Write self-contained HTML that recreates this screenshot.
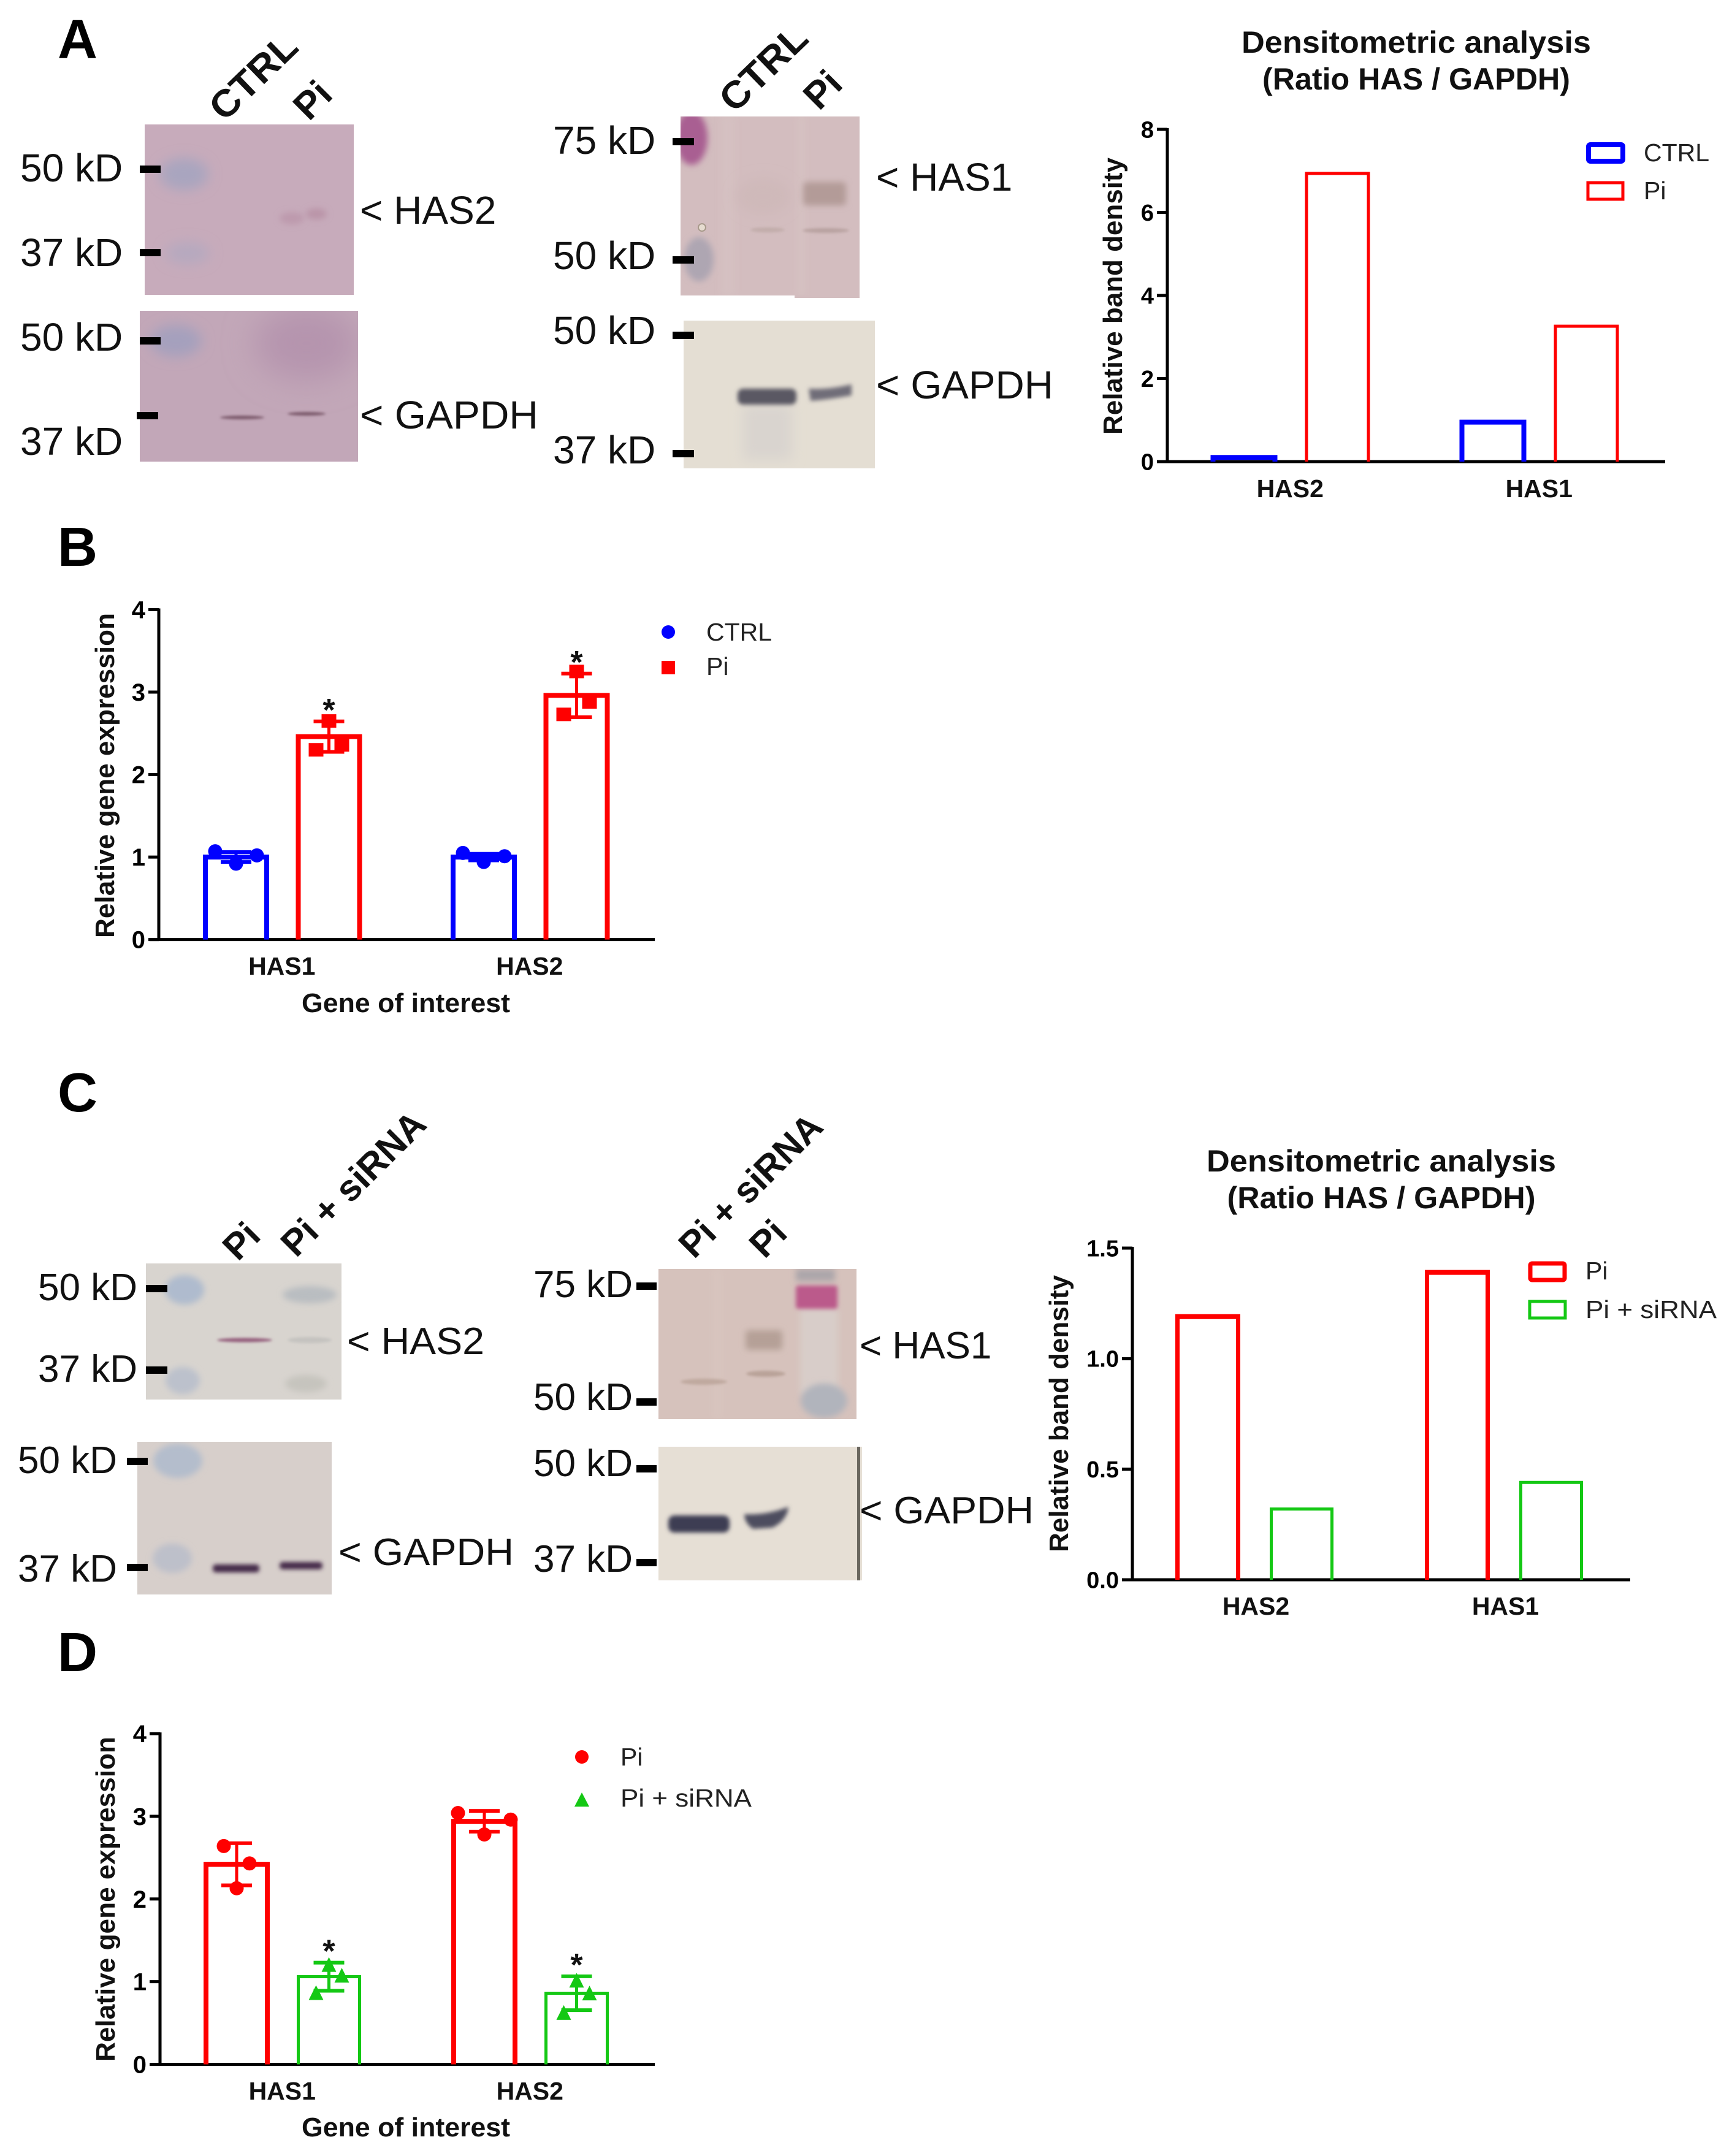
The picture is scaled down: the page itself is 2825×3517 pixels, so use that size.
<!DOCTYPE html>
<html lang="en">
<head>
<meta charset="utf-8">
<title>HAS1 and HAS2 western blots and gene expression</title>
<style>
html,body{margin:0;padding:0;background:#fff;}
svg{display:block;}
text{font-family:"Liberation Sans",sans-serif;fill:#111;}
.b{font-weight:bold;}
.k{font-size:64px;}
.k2{font-size:62px;}
.panel{font-size:90px;font-weight:bold;fill:#000;}
.rot{font-size:62px;font-weight:bold;}
.rot2{font-size:60px;font-weight:bold;}
.title{font-size:50px;font-weight:bold;text-anchor:middle;}
.ytitle{font-size:44px;font-weight:bold;text-anchor:middle;}
.leg{font-size:41px;fill:#222;}
.tick{fill:#000;}
</style>
</head>
<body>
<svg id="figure" xmlns="http://www.w3.org/2000/svg" width="2825" height="3517" viewBox="0 0 2825 3517">
<defs>
<filter id="b2" x="-60%" y="-200%" width="220%" height="500%"><feGaussianBlur stdDeviation="2"/></filter>
<filter id="b3" x="-60%" y="-100%" width="220%" height="300%"><feGaussianBlur stdDeviation="3.5"/></filter>
<filter id="b5" x="-60%" y="-100%" width="220%" height="300%"><feGaussianBlur stdDeviation="5"/></filter>
<filter id="b10" x="-60%" y="-80%" width="220%" height="260%"><feGaussianBlur stdDeviation="10"/></filter>
<filter id="b25" x="-80%" y="-80%" width="260%" height="260%"><feGaussianBlur stdDeviation="25"/></filter>
<clipPath id="c1"><rect x="236" y="203" width="341" height="278"/></clipPath>
<clipPath id="c2"><rect x="228" y="507" width="356" height="246"/></clipPath>
<clipPath id="c3"><rect x="1110" y="190" width="292" height="292"/></clipPath>
<clipPath id="c4"><rect x="1115" y="523" width="312" height="241"/></clipPath>
<clipPath id="c5"><rect x="238" y="2061" width="319" height="222"/></clipPath>
<clipPath id="c6"><rect x="224" y="2352" width="317" height="249"/></clipPath>
<clipPath id="c7"><rect x="1074" y="2070" width="323" height="245"/></clipPath>
<clipPath id="c8"><rect x="1074" y="2360" width="332" height="218"/></clipPath>
</defs>
<rect x="0" y="0" width="2825" height="3517" fill="#ffffff"/>

<text class="panel" x="94" y="95">A</text>
<text class="panel" x="94" y="923">B</text>
<text class="panel" x="94" y="1813">C</text>
<text class="panel" x="94" y="2726">D</text>

<!-- Panel A, left blots -->
<text class="rot" transform="translate(366 200) rotate(-44)" textLength="172" lengthAdjust="spacingAndGlyphs">CTRL</text>
<text class="rot" transform="translate(504 199) rotate(-45)">Pi</text>
<g clip-path="url(#c1)">
  <rect x="236" y="203" width="341" height="278" fill="#c7abbb"/>
  <ellipse cx="300" cy="284" rx="40" ry="26" fill="#a9a5bf" filter="url(#b10)"/>
  <ellipse cx="306" cy="413" rx="36" ry="18" fill="#b6a9bf" filter="url(#b10)"/>
  <ellipse cx="476" cy="356" rx="20" ry="10" fill="#bd9aad" filter="url(#b5)"/>
  <ellipse cx="516" cy="349" rx="17" ry="9" fill="#ba94a8" filter="url(#b5)"/>
</g>
<g clip-path="url(#c2)">
  <rect x="228" y="507" width="356" height="246" fill="#c2a7b8"/>
  <ellipse cx="500" cy="560" rx="85" ry="60" fill="#b594ae" filter="url(#b25)"/>
  <ellipse cx="287" cy="556" rx="42" ry="26" fill="#a5a0bd" filter="url(#b10)"/>
  <ellipse cx="395" cy="681" rx="36" ry="3" fill="#7c5a6c" filter="url(#b2)"/>
  <ellipse cx="500" cy="675" rx="31" ry="3" fill="#7c5a6c" filter="url(#b2)"/>
</g>
<g fill="#000">
  <rect x="228" y="270" width="34" height="12"/>
  <rect x="228" y="406" width="34" height="12"/>
  <rect x="228" y="550" width="34" height="12"/>
  <rect x="223" y="672" width="35" height="12"/>
</g>
<text class="k" x="33" y="296">50 kD</text>
<text class="k" x="33" y="434">37 kD</text>
<text class="k" x="33" y="572">50 kD</text>
<text class="k" x="33" y="742">37 kD</text>
<text class="k" x="587" y="365">&lt; HAS2</text>
<text class="k" x="587" y="699" textLength="291" lengthAdjust="spacingAndGlyphs">&lt; GAPDH</text>

<!-- Panel A, right blots -->
<text class="rot" transform="translate(1198 186) rotate(-44)" textLength="172" lengthAdjust="spacingAndGlyphs">CTRL</text>
<text class="rot" transform="translate(1336 182) rotate(-45)">Pi</text>
<rect x="1296" y="190" width="106" height="296" fill="#d3bdbf"/>
<g clip-path="url(#c3)">
  <rect x="1110" y="190" width="292" height="292" fill="#d3bdbf"/>
  <rect x="1176" y="190" width="24" height="292" fill="#d7c4c4" opacity="0.5" filter="url(#b5)"/>
  <rect x="1300" y="190" width="14" height="292" fill="#d8c6c4" opacity="0.5" filter="url(#b5)"/>
  <ellipse cx="1128" cy="225" rx="26" ry="44" fill="#a95f92" filter="url(#b5)"/>
  <ellipse cx="1140" cy="423" rx="24" ry="36" fill="#aea6b2" filter="url(#b5)"/>
  <circle cx="1145" cy="371" r="6" fill="#e6dcd0" stroke="#a89a8c" stroke-width="2"/>
  <ellipse cx="1245" cy="320" rx="45" ry="30" fill="#cfb9ba" filter="url(#b10)"/>
  <rect x="1310" y="297" width="70" height="38" rx="6" fill="#b39b98" filter="url(#b5)"/>
  <ellipse cx="1347" cy="376" rx="38" ry="4" fill="#b9a3a1" filter="url(#b2)"/>
  <ellipse cx="1252" cy="375" rx="28" ry="4" fill="#c2adab" filter="url(#b2)"/>
</g>
<g clip-path="url(#c4)">
  <rect x="1115" y="523" width="312" height="241" fill="#e4ded3"/>
  <rect x="1212" y="660" width="80" height="90" fill="#d9d4cf" filter="url(#b10)"/>
  <rect x="1203" y="634" width="96" height="26" rx="9" fill="#5a5864" filter="url(#b3)"/>
  <path d="M1319 634 Q1350 636 1389 627 L1389 645 Q1350 652 1322 654 Z" fill="#6f6d78" filter="url(#b3)"/>
</g>
<g fill="#000">
  <rect x="1097" y="225" width="35" height="12"/>
  <rect x="1097" y="418" width="35" height="12"/>
  <rect x="1097" y="541" width="35" height="12"/>
  <rect x="1097" y="734" width="35" height="12"/>
</g>
<text class="k" x="902" y="251">75 kD</text>
<text class="k" x="902" y="439">50 kD</text>
<text class="k" x="902" y="561">50 kD</text>
<text class="k" x="902" y="756">37 kD</text>
<text class="k" x="1429" y="311">&lt; HAS1</text>
<text class="k" x="1429" y="650" textLength="289" lengthAdjust="spacingAndGlyphs">&lt; GAPDH</text>

<!-- Panel C, left blots -->
<text class="rot2" transform="translate(388 2059) rotate(-45)">Pi</text>
<text class="rot2" transform="translate(483 2053) rotate(-45)" textLength="305" lengthAdjust="spacingAndGlyphs">Pi + siRNA</text>
<g clip-path="url(#c5)">
  <rect x="238" y="2061" width="319" height="222" fill="#d8d4cf"/>
  <ellipse cx="301" cy="2104" rx="32" ry="24" fill="#afbbce" filter="url(#b5)"/>
  <ellipse cx="298" cy="2252" rx="28" ry="22" fill="#bcc1cc" filter="url(#b5)"/>
  <ellipse cx="505" cy="2112" rx="44" ry="14" fill="#b9bdc1" filter="url(#b5)"/>
  <ellipse cx="499" cy="2257" rx="34" ry="14" fill="#c6c4be" filter="url(#b5)"/>
  <ellipse cx="505" cy="2186" rx="36" ry="5" fill="#c5c3c0" filter="url(#b2)"/>
  <ellipse cx="399" cy="2186" rx="45" ry="3.5" fill="#95607e" filter="url(#b2)"/>
</g>
<g clip-path="url(#c6)">
  <rect x="224" y="2352" width="317" height="249" fill="#d7cfcb"/>
  <ellipse cx="290" cy="2383" rx="40" ry="28" fill="#b4bdcc" filter="url(#b5)"/>
  <ellipse cx="281" cy="2542" rx="32" ry="24" fill="#bdc0ca" filter="url(#b5)"/>
  <rect x="347" y="2552" width="76" height="13" rx="5" fill="#452a4a" filter="url(#b3)"/>
  <rect x="456" y="2548" width="70" height="12" rx="5" fill="#452a4a" filter="url(#b3)"/>
</g>
<g fill="#000">
  <rect x="238" y="2096" width="35" height="12"/>
  <rect x="238" y="2229" width="35" height="12"/>
  <rect x="207" y="2378" width="34" height="12"/>
  <rect x="207" y="2551" width="34" height="12"/>
</g>
<text class="k2" x="62" y="2121">50 kD</text>
<text class="k2" x="62" y="2254">37 kD</text>
<text class="k2" x="29" y="2403">50 kD</text>
<text class="k2" x="29" y="2580">37 kD</text>
<text class="k2" x="566" y="2209" textLength="224" lengthAdjust="spacingAndGlyphs">&lt; HAS2</text>
<text class="k2" x="552" y="2553" textLength="286" lengthAdjust="spacingAndGlyphs">&lt; GAPDH</text>

<!-- Panel C, right blots -->
<text class="rot2" transform="translate(1132 2055) rotate(-45)" textLength="302" lengthAdjust="spacingAndGlyphs">Pi + siRNA</text>
<text class="rot2" transform="translate(1247 2055) rotate(-45)">Pi</text>
<g clip-path="url(#c7)">
  <rect x="1074" y="2070" width="323" height="245" fill="#d6c2bc"/>
  <rect x="1160" y="2070" width="20" height="245" fill="#d9c6c0" opacity="0.5" filter="url(#b5)"/>
  <rect x="1305" y="2135" width="62" height="140" fill="#d8cdc9" filter="url(#b5)"/>
  <rect x="1298" y="2070" width="64" height="20" fill="#aca6aa" filter="url(#b5)"/>
  <rect x="1298" y="2097" width="68" height="38" rx="4" fill="#bb5a8b" filter="url(#b3)"/>
  <ellipse cx="1344" cy="2285" rx="38" ry="28" fill="#b1b4bc" filter="url(#b5)"/>
  <rect x="1216" y="2170" width="60" height="32" rx="5" fill="#b5a097" filter="url(#b5)"/>
  <ellipse cx="1249" cy="2241" rx="32" ry="5" fill="#b9a399" filter="url(#b2)"/>
  <ellipse cx="1148" cy="2254" rx="38" ry="5" fill="#bfa99f" filter="url(#b2)"/>
</g>
<g clip-path="url(#c8)">
  <rect x="1074" y="2360" width="332" height="218" fill="#e6dfd5"/>
  <rect x="1090" y="2472" width="100" height="28" rx="10" fill="#3e3e52" filter="url(#b3)"/>
  <path d="M1214 2470 Q1250 2472 1286 2458 Q1284 2480 1260 2492 L1228 2494 Q1214 2484 1214 2470 Z" fill="#4d4d5e" filter="url(#b3)"/>
  <rect x="1398" y="2360" width="5" height="218" fill="#6a675f"/>
</g>
<g fill="#000">
  <rect x="1038" y="2092" width="33" height="12"/>
  <rect x="1038" y="2281" width="33" height="12"/>
  <rect x="1038" y="2390" width="33" height="12"/>
  <rect x="1038" y="2543" width="33" height="12"/>
</g>
<text class="k2" x="870" y="2116">75 kD</text>
<text class="k2" x="870" y="2300">50 kD</text>
<text class="k2" x="870" y="2408">50 kD</text>
<text class="k2" x="870" y="2564">37 kD</text>
<text class="k2" x="1402" y="2216">&lt; HAS1</text>
<text class="k2" x="1402" y="2485" textLength="284" lengthAdjust="spacingAndGlyphs">&lt; GAPDH</text>

<!-- Titles -->
<text class="title" x="2310" y="86" textLength="570" lengthAdjust="spacingAndGlyphs">Densitometric analysis</text>
<text class="title" x="2310" y="146" textLength="502" lengthAdjust="spacingAndGlyphs">(Ratio HAS / GAPDH)</text>
<text class="title" x="2253" y="1911" textLength="570" lengthAdjust="spacingAndGlyphs">Densitometric analysis</text>
<text class="title" x="2253" y="1971" textLength="503" lengthAdjust="spacingAndGlyphs">(Ratio HAS / GAPDH)</text>

<!-- Axis titles -->
<text class="ytitle" transform="translate(1830 483) rotate(-90)" textLength="452" lengthAdjust="spacingAndGlyphs">Relative band density</text>
<text class="ytitle" transform="translate(1742 2306) rotate(-90)" textLength="452" lengthAdjust="spacingAndGlyphs">Relative band density</text>
<text class="ytitle" transform="translate(186 1265) rotate(-90)" textLength="530" lengthAdjust="spacingAndGlyphs">Relative gene expression</text>
<text class="ytitle" transform="translate(187 3098) rotate(-90)" textLength="530" lengthAdjust="spacingAndGlyphs">Relative gene expression</text>
<text class="ytitle" x="662" y="1651" textLength="340" lengthAdjust="spacingAndGlyphs">Gene of interest</text>
<text class="ytitle" x="662" y="3485" textLength="340" lengthAdjust="spacingAndGlyphs">Gene of interest</text>

<!-- Legends -->
<g>
  <rect x="2591" y="236" width="56" height="27" rx="3" fill="none" stroke="#0000ff" stroke-width="8"/>
  <text class="leg" x="2681" y="263">CTRL</text>
  <rect x="2590" y="298" width="57" height="27" fill="none" stroke="#ff0000" stroke-width="5"/>
  <text class="leg" x="2681" y="325">Pi</text>
</g>
<g>
  <rect x="2496" y="2061" width="56" height="27" rx="3" fill="none" stroke="#ff0000" stroke-width="7"/>
  <text class="leg" x="2586" y="2087">Pi</text>
  <rect x="2495" y="2123" width="58" height="27" fill="none" stroke="#14c814" stroke-width="5"/>
  <text class="leg" x="2586" y="2150" textLength="214" lengthAdjust="spacingAndGlyphs">Pi + siRNA</text>
</g>
<g>
  <circle cx="1090" cy="1031" r="11" fill="#0000ff"/>
  <text class="leg" x="1152" y="1045">CTRL</text>
  <rect x="1079" y="1078" width="22" height="22" fill="#ff0000"/>
  <text class="leg" x="1152" y="1101">Pi</text>
</g>
<g>
  <circle cx="949" cy="2866" r="11" fill="#ff0000"/>
  <text class="leg" x="1012" y="2880">Pi</text>
  <polygon points="937,2947 961,2947 949,2924" fill="#14c814"/>
  <text class="leg" x="1012" y="2947" textLength="214" lengthAdjust="spacingAndGlyphs">Pi + siRNA</text>
</g>

<g id="charts"></g>
</svg>

<script>
/* Panel A densitometry */
const densACategories = ['HAS2', 'HAS1'];
const densACtrl = [0.1, 0.95];
const densAPi = [6.94, 3.26];
const densATicks = ['0', '2', '4', '6', '8'];

/* Panel C densitometry */
const densCCategories = ['HAS2', 'HAS1'];
const densCPi = [1.19, 1.39];
const densCSirna = [0.32, 0.44];
const densCTicks = ['0.0', '0.5', '1.0', '1.5'];

/* Panel B expression */
const exprBCategories = ['HAS1', 'HAS2'];
const exprBCtrlMean = [1.0, 1.0];
const exprBPiMean = [2.46, 2.96];
const exprBCtrlSd = [0.06, 0.04];
const exprBPiSd = [0.185, 0.265];
const exprBCtrlPoints = [[1.07, 0.92, 1.02], [1.05, 0.94, 1.01]];
const exprBPiPoints = [[2.65, 2.36, 2.30], [3.25, 2.88, 2.73]];
const exprBTicks = ['0', '1', '2', '3', '4'];

/* Panel D expression */
const exprDCategories = ['HAS1', 'HAS2'];
const exprDPiMean = [2.42, 2.94];
const exprDSirnaMean = [1.06, 0.86];
const exprDPiSd = [0.255, 0.125];
const exprDSirnaSd = [0.17, 0.205];
const exprDPiPoints = [[2.64, 2.43, 2.13], [3.04, 2.96, 2.78]];
const exprDSirnaPoints = [[1.20, 1.07, 0.86], [1.01, 0.855, 0.62]];
const exprDTicks = ['0', '1', '2', '3', '4'];

const RED = '#ff0000';
const BLUE = '#0000ff';
const GREEN = '#14c814';
const NS = 'http://www.w3.org/2000/svg';
const root = document.getElementById('charts');

function make(tag, parent, name, attrs) {
  const el = document.createElementNS(NS, tag);
  
  
  for (const key in attrs) el.setAttribute(key, attrs[key]);
  parent.appendChild(el);
  return el;
}

function drawAxes(g, frame, ticks, categories) {
  const y = v => frame.y0 - (v / frame.max) * (frame.y0 - frame.y1);
  make('line', g, 'y-axis', {x1: frame.x, x2: frame.x, y1: frame.y1 - 2, y2: frame.y0, stroke: '#000', 'stroke-width': 5});
  make('line', g, 'x-axis', {x1: frame.xa, x2: frame.xb, y1: frame.y0, y2: frame.y0, stroke: '#000', 'stroke-width': 5});
  ticks.forEach(label => {
    const v = parseFloat(label);
    make('line', g, 'y-tick', {x1: frame.x - 17, x2: frame.x, y1: y(v), y2: y(v), stroke: '#000', 'stroke-width': 5});
    const t = make('text', g, 'y-tick-label', {x: frame.x - 22, y: y(v) + frame.fs * 0.35, 'text-anchor': 'end', class: 'b tick', 'font-size': frame.fs});
    t.textContent = label;
  });
  categories.forEach((label, i) => {
    const cx = frame.c0 + i * frame.cStep + frame.sStep / 2 + frame.labelShift;
    const t = make('text', g, 'x-category-label', {x: cx, y: frame.labelY, 'text-anchor': 'middle', class: 'b', 'font-size': 41});
    t.textContent = label;
  });
  return y;
}

function barCenter(frame, cat, series) {
  return frame.c0 + cat * frame.cStep + series * frame.sStep;
}

function drawBar(g, frame, y, cat, series, value, colour, sw, topSw) {
  const cx = barCenter(frame, cat, series);
  const x0 = cx - frame.bw / 2;
  const x1 = cx + frame.bw / 2;
  const top = y(value);
  make('path', g, 'bar', {d: 'M' + x0 + ' ' + frame.y0 + 'V' + top + 'H' + x1 + 'V' + frame.y0, fill: 'none', stroke: colour, 'stroke-width': sw});
  if (topSw) make('line', g, 'bar-top', {x1: x0 - sw / 2, x2: x1 + sw / 2, y1: top, y2: top, stroke: colour, 'stroke-width': topSw});
}

function drawMarker(g, shape, cx, cy, colour) {
  if (shape === 'circle') {
    make('circle', g, 'data-point', {cx: cx, cy: cy, r: 11.5, fill: colour});
  } else if (shape === 'square') {
    make('rect', g, 'data-point', {x: cx - 12, y: cy - 11, width: 24, height: 22, fill: colour});
  } else {
    make('polygon', g, 'data-point', {points: (cx - 12) + ',' + (cy + 11) + ' ' + (cx + 12) + ',' + (cy + 11) + ' ' + cx + ',' + (cy - 13), fill: colour});
  }
}

function drawError(g, frame, y, cx, mean, sd, colour) {
  const hi = y(mean + sd);
  const lo = y(mean - sd);
  make('line', g, 'error-bar', {x1: cx, x2: cx, y1: hi, y2: lo, stroke: colour, 'stroke-width': 5});
  make('line', g, 'error-cap-upper', {x1: cx - 25, x2: cx + 25, y1: hi, y2: hi, stroke: colour, 'stroke-width': 6});
  make('line', g, 'error-cap-lower', {x1: cx - 25, x2: cx + 25, y1: lo, y2: lo, stroke: colour, 'stroke-width': 6});
}

function drawStar(g, cx, y) {
  const t = make('text', g, 'significance-star', {x: cx, y: y - 1, 'text-anchor': 'middle', class: 'b', 'font-size': 52});
  t.textContent = '*';
}

function drawSeries(g, frame, y, opt) {
  opt.means.forEach((mean, cat) => {
    const cx = barCenter(frame, cat, opt.series);
    drawBar(g, frame, y, cat, opt.series, mean, opt.colour, opt.sw, opt.topSw);
    drawError(g, frame, y, cx, mean, opt.sd[cat], opt.colour);
    opt.points[cat].forEach((value, k) => {
      drawMarker(g, opt.shape, cx + opt.swarm[k] * opt.spread[cat], y(value), opt.colour);
    });
    if (opt.star) drawStar(g, cx, y(mean + opt.sd[cat]));
  });
}

/* Panel A density */
(function () {
  const g = make('g', root, 'densitometry-a-chart', {});
  const frame = {x: 1904, xa: 1887, xb: 2716, y0: 753, y1: 211, max: 8, fs: 38, c0: 2029, cStep: 406, sStep: 152.5, bw: 101, labelY: 811, labelShift: -1};
  const y = drawAxes(g, frame, densATicks, densACategories);
  densACtrl.forEach((v, i) => drawBar(g, frame, y, i, 0, v, BLUE, 8, 0));
  densAPi.forEach((v, i) => drawBar(g, frame, y, i, 1, v, RED, 5, 0));
})();

/* Panel C density */
(function () {
  const g = make('g', root, 'densitometry-c-chart', {});
  const frame = {x: 1847, xa: 1830, xb: 2659, y0: 2577, y1: 2036, max: 1.5, fs: 38, c0: 1970, cStep: 407, sStep: 153, bw: 99, labelY: 2634, labelShift: 2};
  const y = drawAxes(g, frame, densCTicks, densCCategories);
  densCPi.forEach((v, i) => drawBar(g, frame, y, i, 0, v, RED, 7, 8));
  densCSirna.forEach((v, i) => drawBar(g, frame, y, i, 1, v, GREEN, 5, 0));
})();

/* Panel B expression */
(function () {
  const g = make('g', root, 'expression-b-chart', {});
  const frame = {x: 259, xa: 244, xb: 1068, y0: 1532.6, y1: 994.5, max: 4, fs: 40, c0: 385, cStep: 404, sStep: 151.5, bw: 100, labelY: 1590, labelShift: -1};
  const y = drawAxes(g, frame, exprBTicks, exprBCategories);
  drawSeries(g, frame, y, {series: 0, means: exprBCtrlMean, sd: exprBCtrlSd, points: exprBCtrlPoints, colour: BLUE, shape: 'circle', swarm: [-1, 0, 1], spread: [34, 34], star: false, sw: 8, topSw: 0});
  drawSeries(g, frame, y, {series: 1, means: exprBPiMean, sd: exprBPiSd, points: exprBPiPoints, colour: RED, shape: 'square', swarm: [0, 1, -1], spread: [21, 21], star: true, sw: 8, topSw: 0});
})();

/* Panel D expression */
(function () {
  const g = make('g', root, 'expression-d-chart', {});
  const frame = {x: 261, xa: 244, xb: 1068, y0: 3367.5, y1: 2828, max: 4, fs: 40, c0: 386, cStep: 404, sStep: 150.5, bw: 100, labelY: 3425, labelShift: -1};
  const y = drawAxes(g, frame, exprDTicks, exprDCategories);
  drawSeries(g, frame, y, {series: 0, means: exprDPiMean, sd: exprDPiSd, points: exprDPiPoints, colour: RED, shape: 'circle', swarm: [-1, 1, 0], spread: [21, 43], star: false, sw: 8, topSw: 0});
  drawSeries(g, frame, y, {series: 1, means: exprDSirnaMean, sd: exprDSirnaSd, points: exprDSirnaPoints, colour: GREEN, shape: 'triangle', swarm: [0, 1, -1], spread: [21, 21], star: true, sw: 5, topSw: 0});
})();
</script>
</body>
</html>
